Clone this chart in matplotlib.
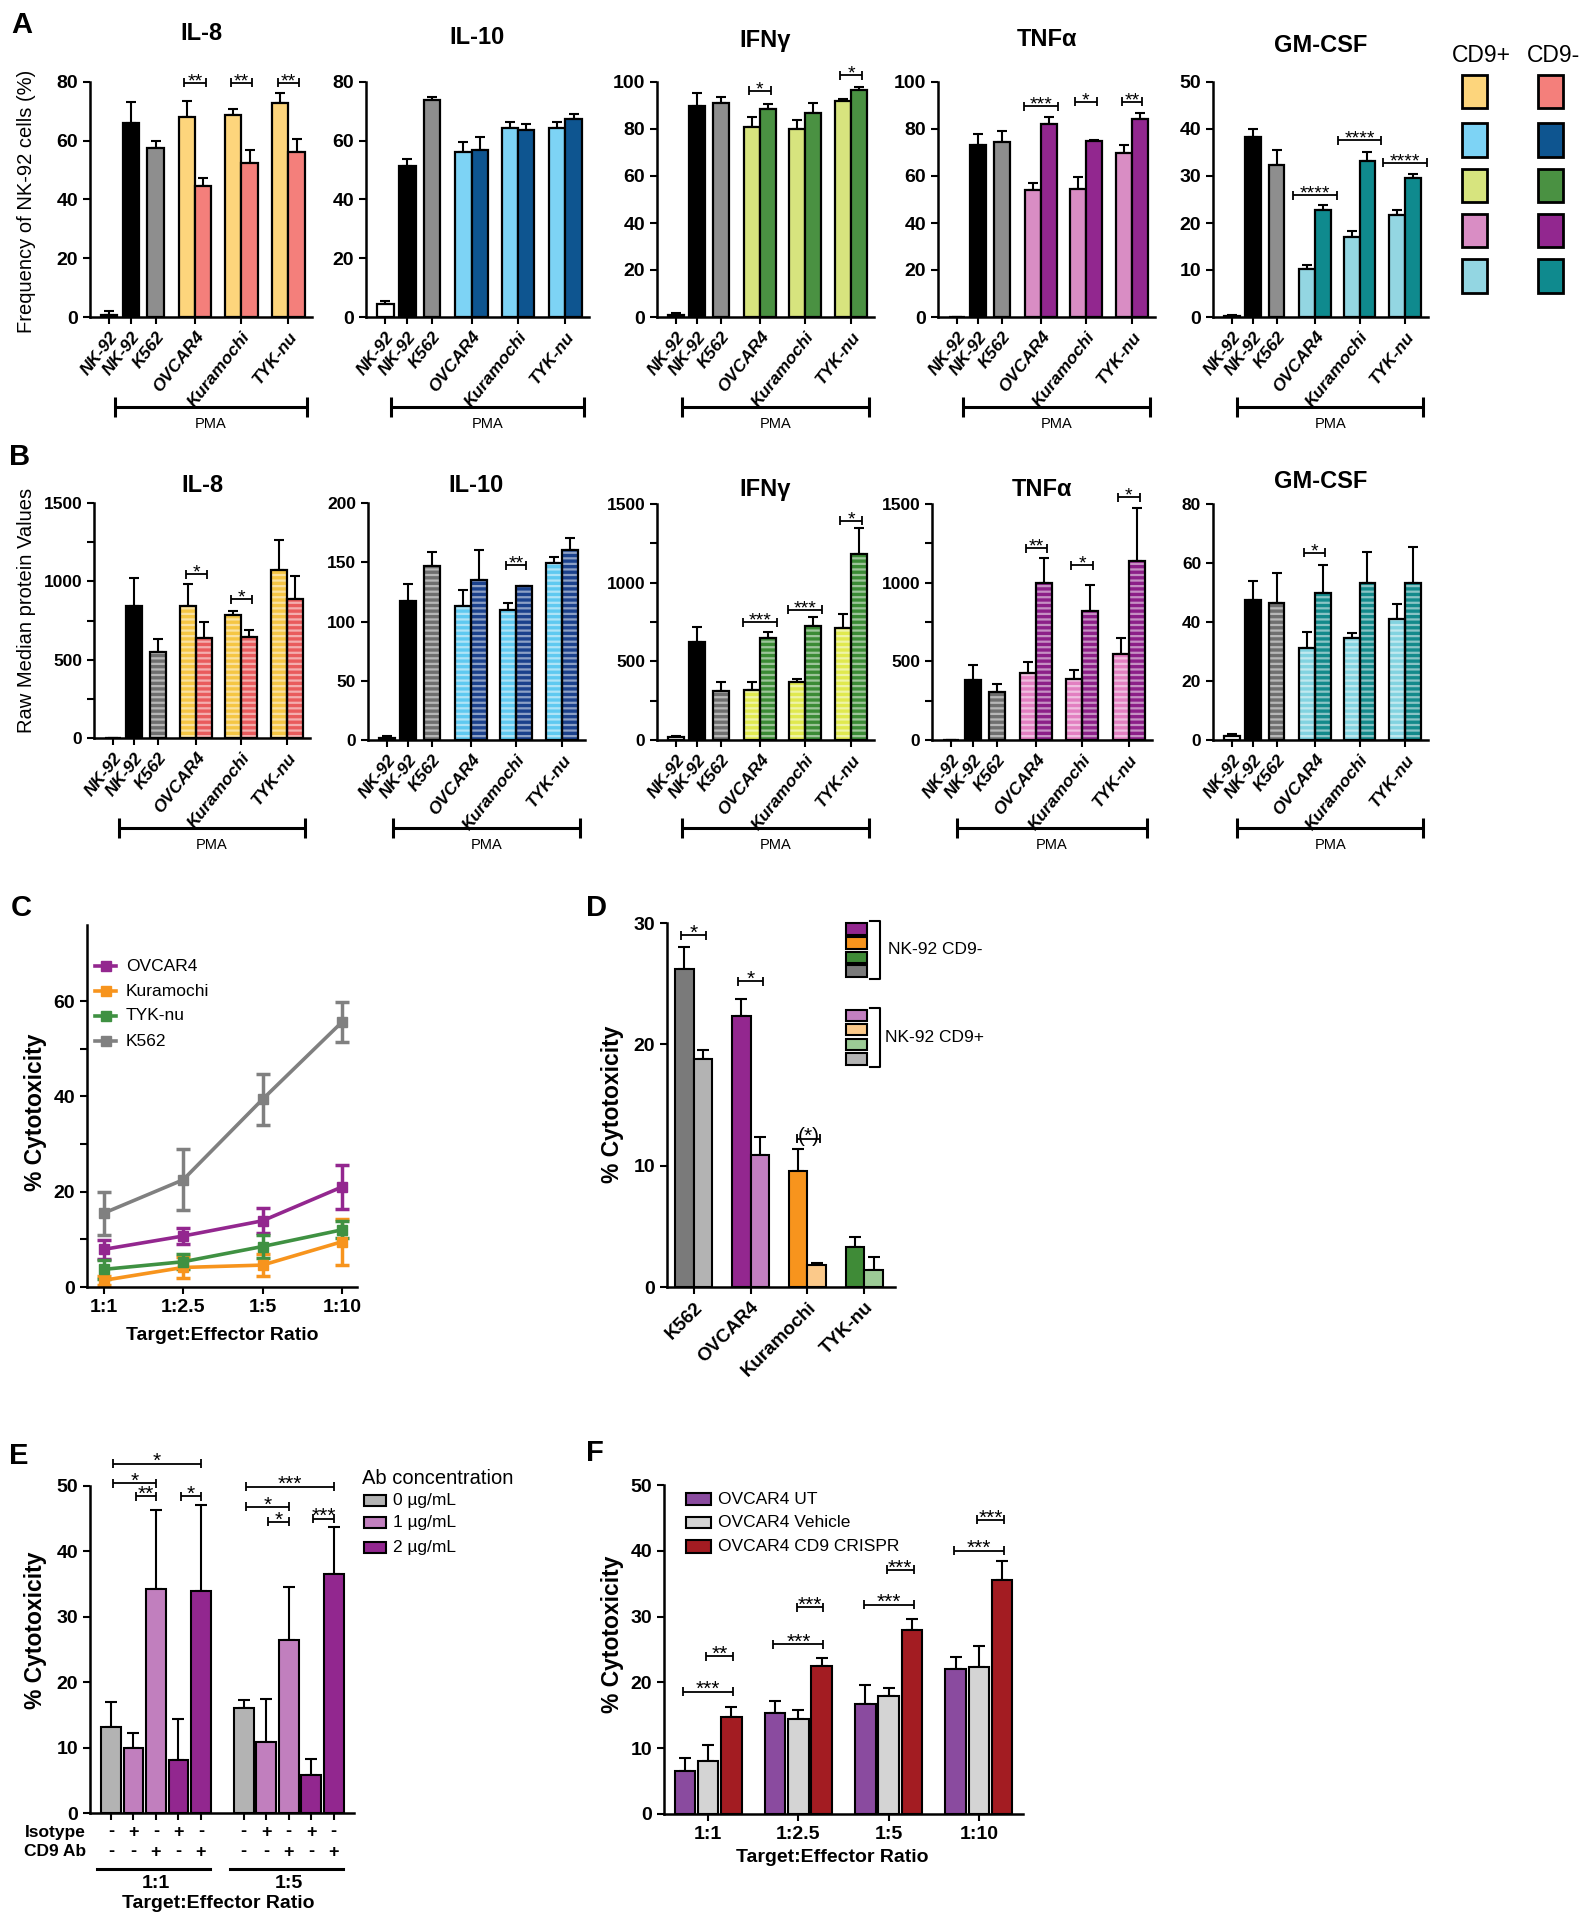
#!/usr/bin/env python
"""NK-92 CD9+/CD9- cytokine and cytotoxicity figure, panels A-F.

Writes out.png (1589x1920).
"""
import numpy as np
import matplotlib

matplotlib.use("Agg")
import matplotlib.pyplot as plt
from matplotlib.patches import Rectangle
from matplotlib.lines import Line2D
from matplotlib.transforms import blended_transform_factory

plt.rcParams["font.family"] = ["Liberation Sans", "DejaVu Sans"]
plt.rcParams["hatch.linewidth"] = 1.6

W, H = 1589, 1920

# ---------------- data ----------------
CELL_LABELS = ["NK-92", "NK-92", "K562", "OVCAR4", "Kuramochi", "TYK-nu"]
# bar order: NK-92, NK-92(PMA), K562, OVCAR4 +/-, Kuramochi +/-, TYK-nu +/-

# A: frequency of NK-92 cells (%)
FREQ_IL8 = [0.8, 65.9, 57.7, 68.1, 44.7, 68.7, 52.3, 72.7, 56.2]
FREQ_IL8_ERR = [1.2, 7.3, 2.3, 5.4, 2.5, 2.2, 4.6, 3.7, 4.3]
FREQ_IL10 = [4.5, 51.5, 73.8, 56.0, 56.8, 64.3, 63.7, 64.3, 67.5]
FREQ_IL10_ERR = [0.8, 2.2, 1.1, 3.6, 4.6, 2.1, 2.1, 2.1, 1.7]
FREQ_IFNG = [0.7, 89.6, 91.1, 80.9, 88.7, 80.1, 87.0, 91.8, 96.5]
FREQ_IFNG_ERR = [1.1, 5.7, 2.5, 4.2, 1.8, 3.9, 4.1, 0.8, 1.4]
FREQ_TNFA = [0.0, 73.3, 74.5, 54.2, 82.0, 54.6, 74.8, 69.9, 84.1]
FREQ_TNFA_ERR = [0.0, 4.7, 4.5, 2.8, 3.1, 5.0, 0.4, 3.4, 2.9]
FREQ_GMCSF = [0.2, 38.3, 32.4, 10.3, 22.8, 17.0, 33.2, 21.6, 29.6]
FREQ_GMCSF_ERR = [0.2, 1.8, 3.2, 0.7, 1.0, 1.4, 1.9, 1.1, 0.8]

# significance: (pair index, stars, bracket height)
SIG_A_IL8 = [(0, "**", 79.7), (1, "**", 79.7), (2, "**", 79.7)]
SIG_A_IL10 = []
SIG_A_IFNG = [(0, "*", 96.2), (2, "*", 102.8)]
SIG_A_TNFA = [(0, "***", 89.6), (1, "*", 91.5), (2, "**", 91.5)]
SIG_A_GMCSF = [(0, "****", 25.9), (1, "****", 37.6), (2, "****", 32.8)]

# B: raw median protein values
RAW_IL8 = [0, 843, 547, 843, 638, 784, 642, 1070, 890]
RAW_IL8_ERR = [0, 180, 84, 142, 104, 27, 49, 197, 144]
RAW_IL10 = [1.4, 117.4, 146.6, 113.2, 135.4, 110.1, 129.8, 149.4, 160.7]
RAW_IL10_ERR = [2.2, 14.1, 12.1, 13.2, 24.6, 5.1, 0.5, 5.1, 9.8]
RAW_IFNG = [17, 621, 314, 320, 648, 371, 727, 710, 1182]
RAW_IFNG_ERR = [10, 99, 57, 47, 36, 17, 57, 91, 163]
RAW_TNFA = [0, 383, 303, 426, 998, 388, 822, 547, 1140]
RAW_TNFA_ERR = [0, 94, 53, 72, 159, 59, 165, 101, 335]
RAW_GMCSF = [1.5, 47.4, 46.5, 31.3, 49.7, 34.7, 53.1, 41.1, 53.3]
RAW_GMCSF_ERR = [0.4, 6.5, 10.0, 5.3, 9.7, 1.7, 10.7, 4.9, 12.2]

SIG_B_IL8 = [(0, "*", 1044), (1, "*", 886)]
SIG_B_IL10 = [(1, "**", 147.5)]
SIG_B_IFNG = [(0, "***", 748), (1, "***", 828), (2, "*", 1394)]
SIG_B_TNFA = [(0, "**", 1218), (1, "*", 1112), (2, "*", 1542)]
SIG_B_GMCSF = [(0, "*", 63.4)]

# C: cytotoxicity vs target:effector ratio
RATIOS = ["1:1", "1:2.5", "1:5", "1:10"]
C_LINES = ["OVCAR4", "Kuramochi", "TYK-nu", "K562"]
C_OVCAR4 = [7.9, 10.7, 13.9, 21.0]
C_OVCAR4_ERR = [2.0, 1.6, 2.6, 4.7]
C_KURAMOCHI = [1.4, 4.1, 4.6, 9.5]
C_KURAMOCHI_ERR = [1.0, 2.2, 2.3, 4.8]
C_TYKNU = [3.7, 5.3, 8.5, 12.0]
C_TYKNU_ERR = [2.0, 1.6, 2.4, 1.8]
C_K562 = [15.5, 22.5, 39.4, 55.6]
C_K562_ERR = [4.5, 6.4, 5.4, 4.2]

# D: cytotoxicity by NK-92 CD9 status
D_TARGETS = ["K562", "OVCAR4", "Kuramochi", "TYK-nu"]
D_CD9NEG = [26.2, 22.3, 9.6, 3.3]
D_CD9NEG_ERR = [1.8, 1.4, 1.8, 0.8]
D_CD9POS = [18.8, 10.9, 1.8, 1.4]
D_CD9POS_ERR = [0.7, 1.5, 0.2, 1.1]

# E: CD9 blocking antibody
E_RATIOS = ["1:1", "1:5"]
E_ISOTYPE = ["-", "+", "-", "+", "-"]
E_CD9AB = ["-", "-", "+", "-", "+"]
E_CONC = ["0 µg/mL", "1 µg/mL", "2 µg/mL"]
E_1TO1 = [13.1, 10.0, 34.3, 8.1, 34.0]
E_1TO1_ERR = [3.9, 2.2, 12.0, 6.3, 13.1]
E_1TO5 = [16.1, 10.9, 26.5, 5.8, 36.5]
E_1TO5_ERR = [1.2, 6.6, 8.1, 2.4, 7.2]
# (bar i, bar j, stars, height) within a ratio group
SIG_E_1TO1 = [(0, 4, "*", 53.4), (0, 2, "*", 50.4), (1, 2, "**", 48.4), (3, 4, "*", 48.4)]
SIG_E_1TO5 = [(0, 4, "***", 49.9), (0, 2, "*", 46.8), (1, 2, "*", 44.5), (3, 4, "***", 45.0)]

# F: OVCAR4 CD9 knockout
F_SERIES = ["OVCAR4 UT", "OVCAR4 Vehicle", "OVCAR4 CD9 CRISPR"]
F_UT = [6.6, 15.4, 16.7, 22.0]
F_UT_ERR = [1.9, 1.8, 2.9, 1.8]
F_VEHICLE = [8.0, 14.4, 17.9, 22.4]
F_VEHICLE_ERR = [2.5, 1.4, 1.2, 3.2]
F_CRISPR = [14.8, 22.5, 27.9, 35.6]
F_CRISPR_ERR = [1.5, 1.2, 1.8, 2.9]
# (group, series i, series j, stars, height)
SIG_F = [(0, 0, 2, "***", 18.6), (0, 1, 2, "**", 24.0),
         (1, 0, 2, "***", 25.8), (1, 1, 2, "***", 31.4),
         (2, 0, 2, "***", 31.8), (2, 1, 2, "***", 37.1),
         (3, 0, 2, "***", 40.0), (3, 1, 2, "***", 44.7)]

# ---------------- style ----------------
A_COLORS = [("#fdd57c", "#f47f7b"), ("#7dd3f5", "#0e5590"), ("#d7e47e", "#4a9142"),
            ("#d98dc4", "#92278f"), ("#93d6e2", "#0f8a8e")]
B_COLORS = [("#f5c644", "#e95b5d"), ("#5fc9f0", "#1b418c"), ("#e0e94f", "#3b8b35"),
            ("#e27fc1", "#8c1f88"), ("#82d3e0", "#138a8b")]

SINGLE_X = [1.15, 2.45, 3.9]
PAIR_X = [6.25, 9.0, 11.8]
HALF = 0.485
BAR_X = SINGLE_X + [p + s * HALF for p in PAIR_X for s in (-1, 1)]
TICK_X = SINGLE_X + PAIR_X
BAR_W = 0.97
STAR_EXT = {1: 0.17, 2: 0.15, 3: 0.55, 4: 0.85}

fig = plt.figure(figsize=(W / 100, H / 100), dpi=100)


def fx(px):
    return px / W


def fy(py):
    return 1 - py / H


def add_ax(left, top, right, bottom):
    ax = fig.add_axes([fx(left), fy(bottom), (right - left) / W, (bottom - top) / H])
    for s in ("top", "right"):
        ax.spines[s].set_visible(False)
    for s in ("left", "bottom"):
        ax.spines[s].set_linewidth(1.8)
    ax.tick_params(which="both", direction="out", width=1.5, length=5)
    ax.set_facecolor("none")
    return ax


def bracket(ax, x1, x2, y, label, fs=13, cap_px=4.5, lw=1.3):
    y0, y1 = ax.get_ylim()
    d = cap_px * (y1 - y0) / ax.bbox.height
    kw = dict(color="k", lw=lw, clip_on=False, solid_capstyle="butt")
    ax.plot([x1, x2], [y, y], **kw)
    ax.plot([x1, x1], [y - d, y + d], **kw)
    ax.plot([x2, x2], [y - d, y + d], **kw)
    ax.annotate(label, ((x1 + x2) / 2, y), xytext=(0, -2.5), textcoords="offset points",
                ha="center", va="baseline", fontsize=fs, annotation_clip=False)


def legend_box(x0, y0, x1, y1, color, lw=1.5):
    fig.add_artist(Rectangle((fx(x0), fy(y1)), (x1 - x0) / W, (y1 - y0) / H,
                             transform=fig.transFigure, facecolor=color,
                             edgecolor="k", lw=lw))


def fig_line(xs, ys, lw=1.5):
    fig.add_artist(Line2D([fx(x) for x in xs], [fy(y) for y in ys],
                          transform=fig.transFigure, color="k", lw=lw))


def cytokine_axes(box, means, errs, colors, ytop, ystep, title, title_y, pma_y,
                  sigs, striped=False, minor=None, ytick_fs=14):
    ax = add_ax(*box)
    cplus, cminus = colors
    bar_colors = ["white", "black", "#8e8e8e" if not striped else "#6f6f6f",
                  cplus, cminus, cplus, cminus, cplus, cminus]
    for i, (x, m, c) in enumerate(zip(BAR_X, means, bar_colors)):
        if striped and i >= 2:
            ax.bar(x, m, BAR_W, color=c, edgecolor=(1, 1, 1, 0.5), hatch="---",
                   lw=0, zorder=2)
            ax.bar(x, m, BAR_W, fill=False, edgecolor="k", lw=1.6, zorder=3)
        else:
            ax.bar(x, m, BAR_W, color=c, edgecolor="k", lw=1.6, zorder=3)
    ax.errorbar(BAR_X, means, yerr=[np.zeros(len(errs)), errs], fmt="none",
                ecolor="k", elinewidth=1.5, capsize=3.5, capthick=1.5, zorder=1)
    ax.set_xlim(0, 13.2)
    ax.set_ylim(0, ytop)
    yt = np.arange(0, ytop + 1, ystep)
    ax.set_yticks(yt, labels=[f"{int(v)}" for v in yt], fontweight="bold",
                  fontsize=ytick_fs)
    if minor:
        ax.set_yticks(minor, minor=True)
    ax.set_xticks(TICK_X, labels=CELL_LABELS, rotation=52, ha="right",
                  rotation_mode="anchor", fontstyle="italic", fontweight="bold",
                  fontsize=12.5)
    for pair, stars, y in sigs:
        ext = STAR_EXT[len(stars)]
        bracket(ax, PAIR_X[pair] - HALF - ext, PAIR_X[pair] + HALF + ext, y, stars, fs=14)
    # title and PMA bracket
    pos = ax.get_position()
    fig.text((pos.x0 + pos.x1) / 2, fy(title_y), title, ha="center", va="center",
             fontsize=17, fontweight="bold")
    trans = blended_transform_factory(ax.transData, fig.transFigure)
    kw = dict(color="k", lw=2.2, clip_on=False, transform=trans, solid_capstyle="butt")
    ax.plot([1.5, 12.9], [fy(pma_y)] * 2, **kw)
    ax.plot([1.5, 1.5], [fy(pma_y - 10), fy(pma_y + 10)], **kw)
    ax.plot([12.9, 12.9], [fy(pma_y - 10), fy(pma_y + 10)], **kw)
    ax.text(7.2, fy(pma_y + 17), "PMA", transform=trans, ha="center", va="center",
            fontsize=10.5)
    return ax


# ---------------- panel A ----------------
A_BOXES = [(90, 82, 312, 317), (366, 82, 589, 317), (657, 82, 874, 317),
           (938, 82, 1155, 317), (1213, 82, 1428, 317)]
A_DATA = [(FREQ_IL8, FREQ_IL8_ERR, 80, 20, "IL-8", 34, SIG_A_IL8),
          (FREQ_IL10, FREQ_IL10_ERR, 80, 20, "IL-10", 38, SIG_A_IL10),
          (FREQ_IFNG, FREQ_IFNG_ERR, 100, 20, "IFNγ", 40, SIG_A_IFNG),
          (FREQ_TNFA, FREQ_TNFA_ERR, 100, 20, "TNFα", 40, SIG_A_TNFA),
          (FREQ_GMCSF, FREQ_GMCSF_ERR, 50, 10, "GM-CSF", 45, SIG_A_GMCSF)]
for box, cols, (m, e, top, step, name, ty, sg) in zip(A_BOXES, A_COLORS, A_DATA):
    cytokine_axes(box, m, e, cols, top, step, name, ty, 407, sg)

fig.text(fx(27), fy(201), "Frequency of NK-92 cells (%)", rotation=90,
         ha="center", va="center", fontsize=14.5)

# CD9+/CD9- colour key
fig.text(fx(1481), fy(56), "CD9+", ha="center", va="center", fontsize=16.5)
fig.text(fx(1553), fy(56), "CD9-", ha="center", va="center", fontsize=16.5)
KEY_ROWS = [(75, 108), (123, 157), (169, 202), (214, 247), (259, 293)]
for (y0, y1), (cp, cm) in zip(KEY_ROWS, A_COLORS):
    legend_box(1462, y0, 1487, y1, cp, lw=2)
    legend_box(1538, y0, 1563, y1, cm, lw=2)

# ---------------- panel B ----------------
B_BOXES = [(94, 503, 310, 738), (368, 503, 585, 740), (657, 504, 874, 740),
           (932, 504, 1152, 740), (1213, 504, 1428, 740)]
B_DATA = [(RAW_IL8, RAW_IL8_ERR, 1500, 500, "IL-8", 485, SIG_B_IL8, [250, 750, 1250]),
          (RAW_IL10, RAW_IL10_ERR, 200, 50, "IL-10", 485, SIG_B_IL10, None),
          (RAW_IFNG, RAW_IFNG_ERR, 1500, 500, "IFNγ", 490, SIG_B_IFNG, [250, 750, 1250]),
          (RAW_TNFA, RAW_TNFA_ERR, 1500, 500, "TNFα", 490, SIG_B_TNFA, [250, 750, 1250]),
          (RAW_GMCSF, RAW_GMCSF_ERR, 80, 20, "GM-CSF", 481, SIG_B_GMCSF, None)]
for box, cols, (m, e, top, step, name, ty, sg, mn) in zip(B_BOXES, B_COLORS, B_DATA):
    cytokine_axes(box, m, e, cols, top, step, name, ty, 828, sg, striped=True, minor=mn,
                  ytick_fs=12.5)

fig.text(fx(27), fy(610), "Raw Median protein Values", rotation=90,
         ha="center", va="center", fontsize=14.5)

# ---------------- panel C ----------------
C_COLORS = ["#93278f", "#f7941d", "#3f9142", "#808080"]
axc = add_ax(87, 925, 357, 1287)
xr = np.arange(len(RATIOS))
c_means = [C_OVCAR4, C_KURAMOCHI, C_TYKNU, C_K562]
c_errs = [C_OVCAR4_ERR, C_KURAMOCHI_ERR, C_TYKNU_ERR, C_K562_ERR]
for name, m, e, c in zip(C_LINES, c_means, c_errs, C_COLORS):
    axc.errorbar(xr, m, yerr=e, color=c, marker="s", ms=7, lw=2.6, elinewidth=2.5,
                 capsize=5, capthick=2.5, label=name)
axc.set_xlim(-0.21, 3.19)
axc.set_ylim(0, 76)
axc.set_yticks([0, 20, 40, 60], labels=["0", "20", "40", "60"], fontweight="bold",
               fontsize=14)
axc.set_yticks([10, 30, 50], minor=True)
axc.set_xticks(xr, labels=RATIOS, fontweight="bold", fontsize=14)
fig.text(fx(222), fy(1335), "Target:Effector Ratio", ha="center", va="center",
         fontsize=14, fontweight="bold")
fig.text(fx(36), fy(1112), "% Cytotoxicity", rotation=90, ha="center", va="center",
         fontsize=16.5, fontweight="bold")
for i, (name, c) in enumerate(zip(C_LINES, C_COLORS)):
    yy = 966 + i * 25
    fig.add_artist(Line2D([fx(95), fx(116)], [fy(yy)] * 2, transform=fig.transFigure,
                          color=c, lw=2.6))
    fig.add_artist(Line2D([fx(105.5)], [fy(yy)], transform=fig.transFigure,
                          color=c, marker="s", ms=7, lw=0))
    fig.text(fx(126), fy(yy), name, ha="left", va="center", fontsize=12.5)

# ---------------- panel D ----------------
D_NEG_COLORS = ["#7a7a7a", "#93278f", "#f7941d", "#3f8b37"]
D_POS_COLORS = ["#b3b3b3", "#c27fc0", "#fbc98a", "#9ccb96"]
axd = add_ax(667, 923, 895, 1287)
gx = np.arange(len(D_TARGETS))
axd.bar(gx - 0.1625, D_CD9NEG, 0.325, color=D_NEG_COLORS, edgecolor="k", lw=1.5, zorder=3)
axd.bar(gx + 0.1625, D_CD9POS, 0.325, color=D_POS_COLORS, edgecolor="k", lw=1.5, zorder=3)
axd.errorbar(gx - 0.1625, D_CD9NEG, yerr=[np.zeros(4), D_CD9NEG_ERR], fmt="none",
             ecolor="k", elinewidth=1.5, capsize=4, capthick=1.5, zorder=1)
axd.errorbar(gx + 0.1625, D_CD9POS, yerr=[np.zeros(4), D_CD9POS_ERR], fmt="none",
             ecolor="k", elinewidth=1.5, capsize=4, capthick=1.5, zorder=1)
axd.set_xlim(-0.47, 3.54)
axd.set_ylim(0, 30)
axd.set_yticks([0, 10, 20, 30], labels=["0", "10", "20", "30"], fontweight="bold",
               fontsize=14)
axd.set_xticks(gx, labels=D_TARGETS, rotation=45, ha="right", rotation_mode="anchor",
               fontweight="bold", fontsize=13.5)
bracket(axd, -0.22, 0.22, 29.0, "*", fs=15)
bracket(axd, 0.78, 1.22, 25.2, "*", fs=15)
bracket(axd, 1.81, 2.22, 12.2, "(*)", fs=15)
fig.text(fx(613), fy(1104), "% Cytotoxicity", rotation=90, ha="center", va="center",
         fontsize=16.5, fontweight="bold")
D_KEY_NEG = [(923, 935), (937, 949), (952, 963), (965, 977)]
D_KEY_POS = [(1010, 1021), (1024, 1035), (1039, 1050), (1053, 1065)]
for (y0, y1), c in zip(D_KEY_NEG, D_NEG_COLORS[1:] + D_NEG_COLORS[:1]):
    legend_box(846, y0, 867, y1, c)
for (y0, y1), c in zip(D_KEY_POS, D_POS_COLORS[1:] + D_POS_COLORS[:1]):
    legend_box(846, y0, 867, y1, c)
fig_line([870, 880, 880, 870], [921, 921, 979, 979], lw=1.5)
fig_line([870, 880, 880, 870], [1008, 1008, 1067, 1067], lw=1.5)
fig.text(fx(888), fy(949), "NK-92 CD9-", ha="left", va="center", fontsize=12.5)
fig.text(fx(885), fy(1037), "NK-92 CD9+", ha="left", va="center", fontsize=12.5)

# ---------------- panel E ----------------
E_COLORS = ["#b3b3b3", "#c17fbe", "#c17fbe", "#92278f", "#92278f"]
axe = add_ax(90, 1486, 354, 1813)
ex1 = np.arange(5)
ex2 = ex1 + 5.9
for xs, m, e in ((ex1, E_1TO1, E_1TO1_ERR), (ex2, E_1TO5, E_1TO5_ERR)):
    axe.bar(xs, m, 0.87, color=E_COLORS, edgecolor="k", lw=1.5, zorder=3)
    axe.errorbar(xs, m, yerr=[np.zeros(5), e], fmt="none", ecolor="k",
                 elinewidth=1.5, capsize=4, capthick=1.5, zorder=1)
axe.set_xlim(-0.93, 10.8)
axe.set_ylim(0, 50)
axe.set_yticks(np.arange(0, 51, 10), labels=[str(v) for v in range(0, 51, 10)],
               fontweight="bold", fontsize=14)
axe.set_xticks(np.concatenate([ex1, ex2]), labels=[""] * 10)
for xs, sigs in ((ex1, SIG_E_1TO1), (ex2, SIG_E_1TO5)):
    for i, j, stars, y in sigs:
        bracket(axe, xs[i] + 0.1, xs[j], y, stars, fs=15)
trans_e = blended_transform_factory(axe.transData, fig.transFigure)
for xs in (ex1, ex2):
    for x, iso, ab in zip(xs, E_ISOTYPE, E_CD9AB):
        axe.text(x, fy(1832), iso, transform=trans_e, ha="center", va="center",
                 fontsize=13, fontweight="bold")
        axe.text(x, fy(1852), ab, transform=trans_e, ha="center", va="center",
                 fontsize=13, fontweight="bold")
fig.text(fx(86), fy(1832), "Isotype", ha="right", va="center", fontsize=12.5,
         fontweight="bold")
fig.text(fx(86), fy(1852), "CD9 Ab", ha="right", va="center", fontsize=12.5,
         fontweight="bold")
for xs, lab in zip((ex1, ex2), E_RATIOS):
    axe.plot([xs[0] - 0.6, xs[-1] + 0.4], [fy(1869)] * 2, transform=trans_e, color="k",
             lw=2.2, clip_on=False)
    axe.text(xs[2], fy(1884), lab, transform=trans_e, ha="center", va="center",
             fontsize=14, fontweight="bold")
fig.text(fx(218), fy(1903), "Target:Effector Ratio", ha="center", va="center",
         fontsize=14, fontweight="bold")
fig.text(fx(36), fy(1630), "% Cytotoxicity", rotation=90, ha="center", va="center",
         fontsize=16.5, fontweight="bold")
fig.text(fx(362), fy(1478), "Ab concentration", ha="left", va="center", fontsize=14.5)
E_KEY = [(1495, 1506), (1517, 1528), (1542, 1553)]
for (y0, y1), c, lab in zip(E_KEY, ["#b3b3b3", "#c17fbe", "#92278f"], E_CONC):
    legend_box(364, y0, 386, y1, c)
    fig.text(fx(393), fy((y0 + y1) / 2), lab, ha="left", va="center", fontsize=12.5)

# ---------------- panel F ----------------
F_COLORS = ["#8a4b9f", "#d4d4d4", "#a31c22"]
axf = add_ax(664, 1485, 1023, 1814)
fx_g = np.arange(len(RATIOS))
F_OFF = [-0.257, 0.0, 0.257]
f_means = [F_UT, F_VEHICLE, F_CRISPR]
f_errs = [F_UT_ERR, F_VEHICLE_ERR, F_CRISPR_ERR]
for off, m, e, c in zip(F_OFF, f_means, f_errs, F_COLORS):
    axf.bar(fx_g + off, m, 0.225, color=c, edgecolor="k", lw=1.5, zorder=3)
    axf.errorbar(fx_g + off, m, yerr=[np.zeros(4), e], fmt="none", ecolor="k",
                 elinewidth=1.5, capsize=4, capthick=1.5, zorder=1)
axf.set_xlim(-0.49, 3.49)
axf.set_ylim(0, 50)
axf.set_yticks(np.arange(0, 51, 10), labels=[str(v) for v in range(0, 51, 10)],
               fontweight="bold", fontsize=14)
axf.set_xticks(fx_g, labels=RATIOS, fontweight="bold", fontsize=14)
for g, i, j, stars, y in SIG_F:
    bracket(axf, g + F_OFF[i] - 0.02, g + F_OFF[j] + 0.02, y, stars, fs=15)
fig.text(fx(832), fy(1858), "Target:Effector Ratio", ha="center", va="center",
         fontsize=14, fontweight="bold")
fig.text(fx(612), fy(1634), "% Cytotoxicity", rotation=90, ha="center", va="center",
         fontsize=16.5, fontweight="bold")
F_KEY = [(1493, 1505), (1517, 1528), (1540, 1553)]
for (y0, y1), c, lab in zip(F_KEY, F_COLORS, F_SERIES):
    legend_box(686, y0, 711, y1, c)
    fig.text(fx(718), fy((y0 + y1) / 2), lab, ha="left", va="center", fontsize=12.5)

# ---------------- panel letters ----------------
for letter, (px, py) in zip("ABCDEF", [(22, 25), (20, 457), (21, 908), (597, 908),
                                        (19, 1456), (595, 1453)]):
    fig.text(fx(px), fy(py), letter, ha="center", va="center", fontsize=21,
             fontweight="bold")

fig.savefig("out.png", dpi=100, facecolor="white")
